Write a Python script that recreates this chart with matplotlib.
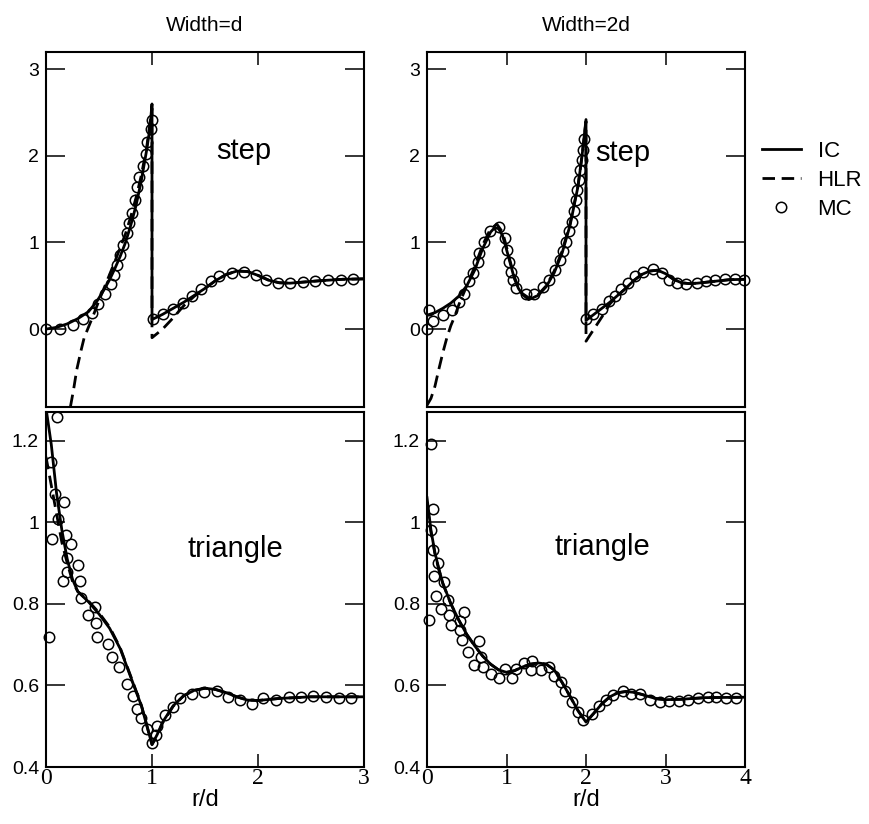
import matplotlib
matplotlib.use('Agg')
import matplotlib.pyplot as plt

plt.rcParams['font.family'] = ['Liberation Sans', 'DejaVu Sans']

# ---- step, width = d ----
ic_step1_x = [0.0, 0.1, 0.2, 0.3, 0.4, 0.48, 0.55, 0.6, 0.65, 0.7, 0.75, 0.8, 0.85, 0.9, 0.95, 0.98, 1.0,
              1.0, 1.1, 1.2, 1.3, 1.4, 1.5, 1.6, 1.7, 1.8, 1.9, 2.0, 2.1, 2.2, 2.3, 2.4, 2.6, 2.8, 3.0]
ic_step1_y = [0.0, 0.02, 0.06, 0.12, 0.2, 0.32, 0.46, 0.57, 0.7, 0.84, 1.0, 1.2, 1.43, 1.72, 2.07, 2.32, 2.6,
              0.11, 0.17, 0.24, 0.31, 0.39, 0.47, 0.56, 0.63, 0.67, 0.665, 0.62, 0.565, 0.535, 0.53, 0.54, 0.56, 0.575, 0.58]
hlr_step1_x = [0.23, 0.26, 0.29, 0.33, 0.36, 0.4, 0.45, 0.5, 0.55, 0.6, 0.65, 0.7, 0.75, 0.8, 0.85, 0.9, 0.95, 1.0,
               1.0, 1.1, 1.2, 1.3, 1.4, 1.5, 1.6, 1.7, 1.8, 1.9, 2.0, 2.1, 2.2, 2.3, 2.4, 2.6, 2.8, 3.0]
hlr_step1_y = [-0.9, -0.7, -0.47, -0.25, -0.1, 0.02, 0.17, 0.33, 0.48, 0.63, 0.78, 0.94, 1.1, 1.3, 1.52, 1.78, 2.1, 2.55,
               -0.1, 0.0, 0.13, 0.27, 0.38, 0.47, 0.56, 0.63, 0.67, 0.665, 0.62, 0.565, 0.535, 0.53, 0.54, 0.56, 0.575, 0.58]
mc_step1_x = [0.0, 0.13, 0.25, 0.345, 0.43, 0.494, 0.557, 0.61, 0.64, 0.673, 0.698, 0.723, 0.767, 0.786, 0.808,
              0.84, 0.86, 0.88, 0.912, 0.943, 0.956, 0.99, 1.0,
              1.007, 1.10, 1.195, 1.29, 1.374, 1.459, 1.554, 1.635, 1.75, 1.87, 1.98, 2.08, 2.19, 2.30, 2.42,
              2.54, 2.66, 2.78, 2.90]
mc_step1_y = [0.0, 0.0, 0.05, 0.115, 0.19, 0.29, 0.41, 0.52, 0.63, 0.74, 0.86, 0.97, 1.11, 1.23, 1.34,
              1.49, 1.64, 1.76, 1.88, 2.02, 2.16, 2.31, 2.42,
              0.12, 0.17, 0.23, 0.30, 0.38, 0.46, 0.55, 0.61, 0.65, 0.66, 0.62, 0.57, 0.53, 0.53, 0.54,
              0.56, 0.57, 0.57, 0.58]

# ---- step, width = 2d ----
ic_step2_x = [0.0, 0.1, 0.2, 0.3, 0.4, 0.5, 0.6, 0.7, 0.8, 0.85, 0.9, 0.95, 1.0, 1.05, 1.1, 1.15, 1.2, 1.28,
              1.4, 1.5, 1.6, 1.7, 1.8, 1.9, 1.95, 2.0,
              2.0, 2.1, 2.2, 2.3, 2.4, 2.5, 2.6, 2.7, 2.8, 2.9, 3.0, 3.1, 3.2, 3.3, 3.4, 3.6, 3.8, 4.0]
ic_step2_y = [0.16, 0.19, 0.24, 0.30, 0.38, 0.50, 0.68, 0.93, 1.12, 1.17, 1.16, 1.08, 0.92, 0.75, 0.58, 0.47, 0.40, 0.34,
              0.39, 0.49, 0.65, 0.88, 1.2, 1.65, 2.0, 2.42,
              0.1, 0.17, 0.24, 0.31, 0.39, 0.47, 0.56, 0.63, 0.67, 0.68, 0.64, 0.575, 0.535, 0.525, 0.53, 0.55, 0.57, 0.575]
hlr_step2_x = [0.0, 0.05, 0.1, 0.15, 0.2, 0.25, 0.3, 0.35, 0.4, 0.5, 0.6, 0.7, 0.8, 0.88, 0.95, 1.0, 1.05, 1.1, 1.15,
               1.2, 1.28, 1.4, 1.5, 1.6, 1.7, 1.8, 1.9, 1.95, 2.0,
               2.0, 2.1, 2.2, 2.3, 2.4, 2.5, 2.6, 2.7, 2.8, 2.9, 3.0, 3.1, 3.2, 3.3, 3.4, 3.6, 3.8, 4.0]
hlr_step2_y = [-0.88, -0.8, -0.66, -0.46, -0.27, -0.1, 0.04, 0.15, 0.28, 0.5, 0.72, 0.97, 1.16, 1.21, 1.12, 0.95, 0.77, 0.6,
               0.48, 0.41, 0.36, 0.4, 0.5, 0.67, 0.9, 1.22, 1.66, 2.0, 2.4,
               -0.14, 0.0, 0.14, 0.29, 0.39, 0.47, 0.56, 0.63, 0.67, 0.68, 0.64, 0.575, 0.535, 0.525, 0.53, 0.55, 0.57, 0.575]
mc_step2_x = [0.0, 0.02, 0.08, 0.2, 0.31, 0.40, 0.46, 0.53, 0.58, 0.64, 0.66, 0.72, 0.79, 0.90, 0.98, 1.0, 1.03,
              1.06, 1.08, 1.12, 1.24, 1.35, 1.46, 1.54, 1.61, 1.67, 1.71, 1.75, 1.79, 1.83, 1.85, 1.87, 1.89,
              1.91, 1.93, 1.95, 1.96, 1.97,
              2.0, 2.09, 2.2, 2.29, 2.36, 2.44, 2.53, 2.62, 2.72, 2.84, 2.95, 3.05, 3.15, 3.26, 3.39, 3.51,
              3.62, 3.75, 3.87, 3.99]
mc_step2_y = [0.0, 0.22, 0.09, 0.165, 0.22, 0.31, 0.41, 0.55, 0.65, 0.78, 0.88, 1.01, 1.13, 1.18, 1.05, 0.91, 0.78,
              0.66, 0.57, 0.47, 0.40, 0.41, 0.49, 0.57, 0.68, 0.80, 0.90, 1.01, 1.13, 1.24, 1.36, 1.49, 1.61,
              1.72, 1.84, 1.95, 2.07, 2.20,
              0.12, 0.17, 0.23, 0.32, 0.38, 0.46, 0.53, 0.61, 0.66, 0.69, 0.65, 0.57, 0.53, 0.52, 0.53, 0.55,
              0.57, 0.58, 0.58, 0.57]

# ---- triangle, width = d ----
ic_tri1_x = [0.0, 0.05, 0.1, 0.15, 0.2, 0.25, 0.3, 0.4, 0.5, 0.6, 0.7, 0.8, 0.9, 1.0, 1.05, 1.1, 1.2, 1.3, 1.4,
             1.5, 1.6, 1.7, 1.8, 1.9, 2.0, 2.2, 2.5, 3.0]
ic_tri1_y = [1.28, 1.19, 1.07, 0.98, 0.91, 0.86, 0.83, 0.805, 0.775, 0.74, 0.69, 0.62, 0.55, 0.455, 0.48, 0.51,
             0.55, 0.575, 0.588, 0.593, 0.59, 0.582, 0.572, 0.564, 0.563, 0.568, 0.572, 0.572]
hlr_tri1_x = [0.0, 0.05, 0.1, 0.15, 0.2, 0.25, 0.3, 0.4, 0.5, 0.6, 0.7, 0.8, 0.9, 1.0, 1.05, 1.1, 1.2, 1.3, 1.4,
              1.5, 1.6, 1.7, 1.8, 1.9, 2.0, 2.2, 2.5, 3.0]
hlr_tri1_y = [1.16, 1.09, 1.02, 0.95, 0.9, 0.855, 0.83, 0.807, 0.778, 0.743, 0.692, 0.622, 0.551, 0.455, 0.478,
              0.508, 0.549, 0.575, 0.588, 0.593, 0.59, 0.582, 0.572, 0.564, 0.563, 0.568, 0.572, 0.572]
mc_tri1_x = [0.03, 0.044, 0.054, 0.085, 0.107, 0.116, 0.157, 0.17, 0.19, 0.195, 0.2, 0.24, 0.30, 0.32, 0.327,
             0.40, 0.46, 0.47, 0.484, 0.588, 0.62, 0.69, 0.76, 0.824, 0.861, 0.90, 0.95, 0.997, 1.04, 1.05,
             1.12, 1.2, 1.26, 1.375, 1.49, 1.61, 1.72, 1.83, 1.94, 2.05, 2.17, 2.29, 2.41, 2.52, 2.64, 2.76, 2.88]
mc_tri1_y = [0.718, 1.147, 0.958, 1.068, 1.257, 1.009, 0.856, 1.049, 0.968, 0.913, 0.878, 0.946, 0.896, 0.856,
             0.814, 0.773, 0.792, 0.752, 0.719, 0.702, 0.669, 0.646, 0.604, 0.573, 0.541, 0.519, 0.492, 0.458,
             0.478, 0.50, 0.527, 0.547, 0.568, 0.58, 0.584, 0.586, 0.572, 0.564, 0.555, 0.57, 0.565, 0.572,
             0.572, 0.574, 0.571, 0.568, 0.568]

# ---- triangle, width = 2d ----
ic_tri2_x = [0.0, 0.05, 0.1, 0.15, 0.2, 0.3, 0.4, 0.5, 0.6, 0.7, 0.8, 0.9, 1.0, 1.1, 1.2, 1.3, 1.4, 1.5, 1.6,
             1.7, 1.8, 1.9, 2.0, 2.1, 2.2, 2.3, 2.4, 2.5, 2.6, 2.7, 2.8, 2.9, 3.0, 3.2, 3.5, 4.0]
ic_tri2_y = [1.06, 0.98, 0.925, 0.885, 0.85, 0.80, 0.76, 0.725, 0.697, 0.672, 0.652, 0.638, 0.632, 0.636, 0.645,
             0.652, 0.655, 0.652, 0.638, 0.607, 0.573, 0.538, 0.51, 0.532, 0.555, 0.572, 0.582, 0.585, 0.583,
             0.578, 0.572, 0.567, 0.565, 0.566, 0.57, 0.571]
hlr_tri2_x = ic_tri2_x
hlr_tri2_y = [1.04, 0.975, 0.922, 0.883, 0.849, 0.80, 0.76, 0.725, 0.697, 0.672, 0.652, 0.638, 0.632, 0.636, 0.645,
              0.652, 0.655, 0.652, 0.638, 0.607, 0.573, 0.538, 0.51, 0.532, 0.555, 0.572, 0.582, 0.585, 0.583,
              0.578, 0.572, 0.567, 0.565, 0.566, 0.57, 0.571]
mc_tri2_x = [0.03, 0.05, 0.05, 0.075, 0.08, 0.086, 0.115, 0.14, 0.18, 0.21, 0.27, 0.28, 0.30, 0.41, 0.42, 0.44,
             0.46, 0.51, 0.585, 0.65, 0.68, 0.70, 0.80, 0.90, 0.976, 1.07, 1.12, 1.215, 1.31, 1.325, 1.43, 1.54,
             1.595, 1.69, 1.74, 1.82, 1.90, 1.96, 2.08, 2.16, 2.25, 2.34, 2.47, 2.57, 2.68, 2.80, 2.93, 3.05,
             3.17, 3.28, 3.41, 3.53, 3.64, 3.76, 3.885]
mc_tri2_y = [0.76, 1.192, 0.982, 1.033, 0.933, 0.868, 0.819, 0.90, 0.787, 0.854, 0.809, 0.773, 0.749, 0.759,
             0.736, 0.711, 0.781, 0.681, 0.651, 0.708, 0.669, 0.646, 0.628, 0.618, 0.641, 0.617, 0.641, 0.655,
             0.638, 0.661, 0.638, 0.646, 0.624, 0.608, 0.586, 0.56, 0.535, 0.515, 0.53, 0.549, 0.563, 0.576,
             0.587, 0.58, 0.58, 0.565, 0.56, 0.562, 0.562, 0.565, 0.569, 0.572, 0.572, 0.57, 0.57]

titles = ['Width=d', 'Width=2d']
shape_names = ['step', 'triangle']
step_yticks = [0, 1, 2, 3]
tri_yticks = [0.4, 0.6, 0.8, 1.0, 1.2]
tri_ylabels = ['0.4', '0.6', '0.8', '1', '1.2']

fig = plt.figure(figsize=(8.69, 8.24), dpi=100)
W, H = 869.0, 824.0


def make_ax(x0, x1, y0, y1):
    return fig.add_axes([x0 / W, 1 - y1 / H, (x1 - x0) / W, (y1 - y0) / H])


ax_s1 = make_ax(46, 364, 52, 407)
ax_s2 = make_ax(427, 745, 52, 407)
ax_t1 = make_ax(46, 364, 412, 767)
ax_t2 = make_ax(427, 745, 412, 767)

panels = [
    (ax_s1, ic_step1_x, ic_step1_y, hlr_step1_x, hlr_step1_y, mc_step1_x, mc_step1_y),
    (ax_s2, ic_step2_x, ic_step2_y, hlr_step2_x, hlr_step2_y, mc_step2_x, mc_step2_y),
    (ax_t1, ic_tri1_x, ic_tri1_y, hlr_tri1_x, hlr_tri1_y, mc_tri1_x, mc_tri1_y),
    (ax_t2, ic_tri2_x, ic_tri2_y, hlr_tri2_x, hlr_tri2_y, mc_tri2_x, mc_tri2_y),
]

for ax, icx, icy, hx, hy, mx, my in panels:
    ax.plot(icx, icy, color='black', lw=2.0, label='IC')
    ax.plot(hx, hy, color='black', lw=2.0, dashes=(4.5, 2.4), label='HLR')
    ax.plot(mx, my, 'o', ms=7.5, mfc='none', mec='black', mew=1.1, label='MC', clip_on=False)
    for sp in ax.spines.values():
        sp.set_linewidth(1.5)
    ax.tick_params(axis='y', which='both', direction='in', left=True, right=True,
                   length=13.5, width=1.1, labelsize=14, pad=5)

for ax, xmax in [(ax_s1, 3), (ax_s2, 4)]:
    ax.set_xlim(0, xmax)
    ax.set_ylim(-0.9, 3.2)
    ax.set_yticks(step_yticks)
    ax.set_xticks(range(xmax + 1))
    ax.tick_params(axis='x', direction='in', top=True, bottom=False, labelbottom=False,
                   length=9, width=1.1)

for ax, xmax in [(ax_t1, 3), (ax_t2, 4)]:
    ax.set_xlim(0, xmax)
    ax.set_ylim(0.4, 1.27)
    ax.set_yticks(tri_yticks, tri_ylabels)
    ax.set_xticks(range(xmax + 1), [str(v) for v in range(xmax + 1)],
                  fontfamily='Liberation Serif', fontsize=17)
    ax.tick_params(axis='x', direction='in', top=False, bottom=True, length=9.5, width=1.1, pad=1)
    ax.set_xlabel('r/d', fontsize=17, labelpad=0)

ax_s1.set_title(titles[0], fontsize=15, pad=15)
ax_s2.set_title(titles[1], fontsize=15, pad=15)

ax_s1.text(1.87, 2.06, shape_names[0], fontsize=21, ha='center', va='center')
ax_s2.text(2.46, 2.03, shape_names[0], fontsize=21, ha='center', va='center')
ax_t1.text(1.79, 0.935, shape_names[1], fontsize=21, ha='center', va='center')
ax_t2.text(2.2, 0.94, shape_names[1], fontsize=21, ha='center', va='center')

handles, labels = ax_s2.get_legend_handles_labels()
fig.legend(handles, labels, loc='upper left', bbox_to_anchor=(762 / W, 1 - 141 / H),
           frameon=False, fontsize=16, handlelength=1.75, handletextpad=0.75,
           labelspacing=0.35, borderaxespad=0, borderpad=0)

fig.savefig('out.png', dpi=100)
